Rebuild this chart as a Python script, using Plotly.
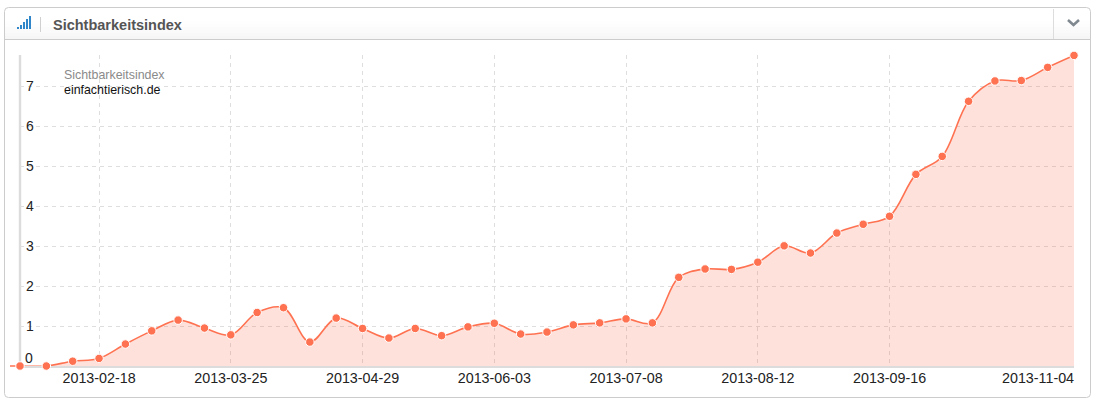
import plotly.graph_objects as go
import pandas as pd

W, H = 1096, 406
dates = pd.date_range("2013-01-28", "2013-11-04", freq="7D").strftime("%Y-%m-%d").tolist()
values = [0, 0, 0.12, 0.19, 0.55, 0.88, 1.15, 0.95, 0.78, 1.34, 1.46, 0.6, 1.2, 0.94, 0.7, 0.94, 0.76,
          0.98, 1.07, 0.8, 0.85, 1.03, 1.08, 1.18, 1.08, 2.22, 2.43, 2.42, 2.6, 3.01, 2.83, 3.33, 3.55,
          3.75, 4.8, 5.25, 6.63, 7.14, 7.15, 7.48, 7.78]
x_ticks = ["2013-02-18", "2013-03-25", "2013-04-29", "2013-06-03", "2013-07-08", "2013-08-12", "2013-09-16", "2013-11-04"]
x_labels = ["2013-02-18", "2013-03-25", "2013-04-29", "2013-06-03", "2013-07-08", "2013-08-12", "2013-09-16", ""]
last_label = "2013-11-04"
y_ticks = [0, 1, 2, 3, 4, 5, 6, 7]
y_labels = ["", "1", "2", "3", "4", "5", "6", "7"]
title = "Sichtbarkeitsindex"
series_name = "Sichtbarkeitsindex"
domain_name = "einfachtierisch.de"

LINE = "#ff7251"
FONT = "Liberation Sans"
GRID = "#dedede"
px = lambda v: v / W
py = lambda v: 1 - v / H

def rect(x0, y0, x1, y1, fill, line=None, lw=1):
    return dict(type="rect", xref="paper", yref="paper", x0=px(x0), x1=px(x1), y0=py(y0), y1=py(y1),
                fillcolor=fill, line=dict(color=line or fill, width=lw if line else 0), layer="below")

def seg(x0, y0, x1, y1, color, lw=1):
    return dict(type="line", xref="paper", yref="paper", x0=px(x0), x1=px(x1), y0=py(y0), y1=py(y1),
                line=dict(color=color, width=lw), layer="below")

shapes = []
# card
shapes.append(dict(type="path", xref="paper", yref="paper", layer="below", fillcolor="#ffffff",
                   line=dict(color="#cccccc", width=1),
                   path=f"M {px(8.5)} {py(7.5)} L {px(1086.5)} {py(7.5)} Q {px(1090.5)} {py(7.5)} {px(1090.5)} {py(11.5)} "
                        f"L {px(1090.5)} {py(393.5)} Q {px(1090.5)} {py(397.5)} {px(1086.5)} {py(397.5)} "
                        f"L {px(8.5)} {py(397.5)} Q {px(4.5)} {py(397.5)} {px(4.5)} {py(393.5)} "
                        f"L {px(4.5)} {py(11.5)} Q {px(4.5)} {py(7.5)} {px(8.5)} {py(7.5)} Z"))
# header gradient bands
bands = ["#ffffff", "#fefefe", "#fdfdfd", "#fbfbfb", "#fafafa", "#f8f8f8", "#f6f6f6"]
for i, c in enumerate(bands):
    shapes.append(rect(5, 18 + i * 3, 1090, 21 + i * 3, c))
shapes.append(seg(5, 39.5, 1090, 39.5, "#cccccc"))
shapes.append(seg(40.5, 17, 40.5, 32, "#d0d0d0"))
shapes.append(seg(1053.5, 9, 1053.5, 39, "#dddddd"))
# signal icon
for i, h in enumerate([2, 4, 7, 10, 13]):
    shapes.append(rect(17 + i * 3, 29 - h, 19 + i * 3, 29, "#2f86c8"))
# chevron
shapes.append(dict(type="path", xref="paper", yref="paper", layer="above", line=dict(color="#808890", width=2.6),
                   path=f"M {px(1068)} {py(20)} L {px(1073.5)} {py(25)} L {px(1079)} {py(20)}"))
# axis lines and lead-in of the baseline
shapes.append(seg(20, 55, 20, 367, "#dcdcdc", 2.4))
shapes.append(seg(20, 367, 1074, 367, "#dcdcdc", 2))
shapes.append(seg(10, 366, 20, 366, LINE, 1.5))

fig = go.Figure()
fig.add_trace(go.Scatter(
    x=dates, y=values, mode="lines+markers",
    line=dict(color=LINE, width=1.6, shape="spline", smoothing=1.0),
    marker=dict(color=LINE, size=8.5, line=dict(color="#ffffff", width=1)),
    fill="tozeroy", fillcolor="rgba(255,105,75,0.2)", cliponaxis=False, hoverinfo="x+y", showlegend=False,
))

annotations = [
    dict(text=f"<b>{title}</b>", x=px(51), y=py(25), xref="paper", yref="paper", xanchor="left", yanchor="middle",
         showarrow=False, font=dict(family=FONT, size=14.5, color="#555555")),
    dict(text=series_name, x=px(62), y=py(75), xref="paper", yref="paper", xanchor="left", yanchor="middle",
         showarrow=False, font=dict(family=FONT, size=12.4, color="#8a8a8a")),
    dict(text=domain_name, x=px(62), y=py(89.5), xref="paper", yref="paper", xanchor="left", yanchor="middle",
         showarrow=False, font=dict(family=FONT, size=12.4, color="#111111")),
    dict(text="0", x=px(23), y=py(358), xref="paper", yref="paper", xanchor="left", yanchor="middle",
         showarrow=False, font=dict(family=FONT, size=14, color="#222222")),
    dict(text=last_label, x=px(1076), y=py(378), xref="paper", yref="paper", xanchor="right", yanchor="middle",
         showarrow=False, font=dict(family=FONT, size=14.3, color="#222222")),
]

fig.update_layout(
    width=W, height=H, margin=dict(l=0, r=0, t=0, b=0), autosize=False,
    paper_bgcolor="#ffffff", plot_bgcolor="rgba(0,0,0,0)", shapes=shapes, annotations=annotations,
    font=dict(family=FONT, size=13, color="#222222"),
    xaxis=dict(domain=[px(20), px(1074)], range=[dates[0], dates[-1]], type="date", tickmode="array",
               tickvals=x_ticks, ticktext=x_labels, showgrid=True, gridcolor=GRID, griddash="4px,4px", gridwidth=1.2,
               showline=False, ticks="outside", ticklen=1, tickcolor="rgba(0,0,0,0)", zeroline=False,
               ticklabelstandoff=-2,
               tickfont=dict(family=FONT, size=14.3, color="#222222")),
    yaxis=dict(domain=[py(366), py(55)], range=[0, 7.79], tickmode="array", tickvals=y_ticks, ticktext=y_labels,
               showgrid=True, gridcolor=GRID, griddash="4px,4px", gridwidth=1.2, showline=False,
               ticks="", zeroline=False, ticklabelposition="inside", ticklabelstandoff=3,
               tickfont=dict(family=FONT, size=14, color="#222222")),
)

fig.write_html("out.html", config=dict(displayModeBar=False),
               post_script="document.body.style.margin='0';")
